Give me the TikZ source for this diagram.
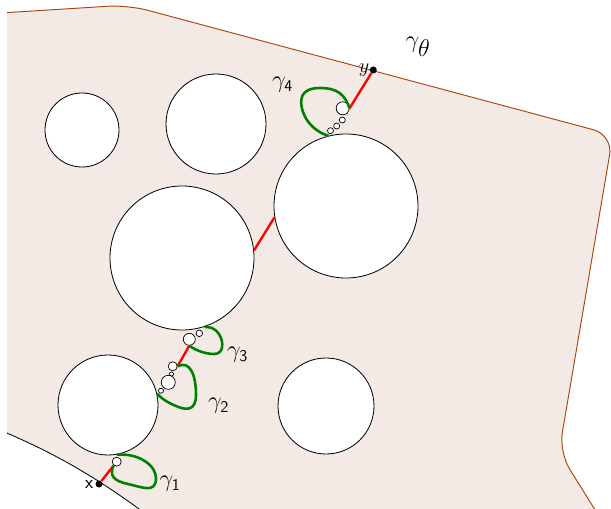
\documentclass[tikz,border=0pt]{standalone}
\usepackage{fontspec}
\usetikzlibrary{positioning}
\definecolor{dombrown}{RGB}{170,68,12}
\definecolor{domfill}{RGB}{243,234,229}
\definecolor{loopgreen}{RGB}{0,128,0}
\tikzset{
  hole/.style={circle, draw=black, fill=white, line width=0.7pt, inner sep=0pt,
               minimum size=2*#1*0.03cm},
  bead/.style={circle, draw=black, fill=white, line width=0.6pt, inner sep=0pt,
               minimum size=2*#1*0.03cm},
  endpt/.style={circle, fill=black, inner sep=0pt, minimum size=0.21cm},
  seg/.style={red, line width=2pt},
  gloop/.style={loopgreen, line width=2.2pt},
  lbl/.style={font=\fontsize{20}{24}\selectfont, inner sep=1pt},
}
\newcommand{\glabel}[1]{$\gamma_{\mathsf{#1}}$}

\begin{document}
\begin{tikzpicture}[x=0.03cm, y=-0.03cm]
\useasboundingbox (0,0) rectangle (611,509);

\begin{scope}
\clip (7,0) rectangle (611,509);
% Domain
\filldraw[draw=dombrown, fill=domfill, line width=0.8pt, rounded corners=0.6cm]
  (-20,14.3) -- (128,5) -- (613,135) -- (559,452) -- (620,550) -- (-20,550) -- cycle;
% Outer obstacle, bottom left
\filldraw[draw=black, fill=white, line width=0.7pt]
  (-5,428) .. controls (60,455) and (100,480) .. (150,517) -- (-5,517) -- cycle;
\end{scope}

% Holes
\node[hole=37] (c1) at (82,130) {};
\node[hole=50] (c2) at (216,124) {};
\node[hole=72] (c3) at (182,258) {};
\node[hole=72] (c4) at (346,206) {};
\node[hole=50] (c5) at (108,405) {};
\node[hole=48] (c6) at (326,406) {};

% Small balls along the path
\node[bead=4.5] (b1) at (116.7,461.7) {};
\node[bead=2.5] (p1) at (161,390.7) {};
\node[bead=7] (p2) at (168.3,382.3) {};
\node[bead=2] (p2a) at (171.5,374) {};
\node[bead=4.5] (p3) at (172.7,366.3) {};
\node[bead=6] (p4) at (189.3,339.3) {};
\node[bead=3.3] (p5) at (199.3,333.3) {};
\node[bead=6.5] (s8) at (342.7,108.3) {};
\node[bead=3] (s7) at (342.3,120) {};
\node[bead=3] (s6) at (336.7,126) {};
\node[bead=3] (s5) at (330.5,130.7) {};

% End points
\node[endpt] (x) at (99,484) {};
\node[endpt] (y) at (373.3,70) {};

% Straight pieces
\draw[seg] (x) -- (b1);
\draw[seg] (p3.east) -- (p4.south);
\draw[seg] (c3.6) -- (c4.189);
\draw[seg] (s8.east) -- (y);

% Loops
\draw[gloop] (b1.229) .. controls (109,476) and (114,481) .. (128,484)
  .. controls (142,487) and (156,494) .. (156,478)
  .. controls (156,466) and (140,453) .. (c5.280);
\draw[gloop] (p3.east) .. controls (190,360) and (196,375) .. (196,395)
  .. controls (196,412) and (185,410) .. (176,406)
  .. controls (166,402) and (160,397) .. (c5.13);
\draw[gloop] (p4.south) .. controls (195,350) and (205,354) .. (214,354)
  .. controls (224,354) and (224,342) .. (219,334)
  .. controls (215,328) and (210,327) .. (c3.288);
\draw[gloop] (s8.east) .. controls (345,95) and (338,88) .. (320,88)
  .. controls (300,88) and (299,100) .. (303,112)
  .. controls (307,124) and (318,133) .. (c4.104);

% Labels
\node[lbl, font=\fontsize{16}{19}\selectfont\sffamily, left=0.5pt of x] (xl) {x};
\node[lbl, font=\fontsize{17}{20}\selectfont, left=0pt of y, inner sep=0pt] (yl) {$y$};
\node[lbl] (g1) at (170,484) {\glabel{1}};
\node[lbl] (g2) at (218.5,406) {\glabel{2}};
\node[lbl] (g3) at (237.5,355) {\glabel{3}};
\node[lbl] (g4) at (282.5,85) {\glabel{4}};
\node[font=\fontsize{20}{24}\selectfont] (gth) at (418,47) {$\gamma_{\textstyle\theta}$};

\end{tikzpicture}
\end{document}
